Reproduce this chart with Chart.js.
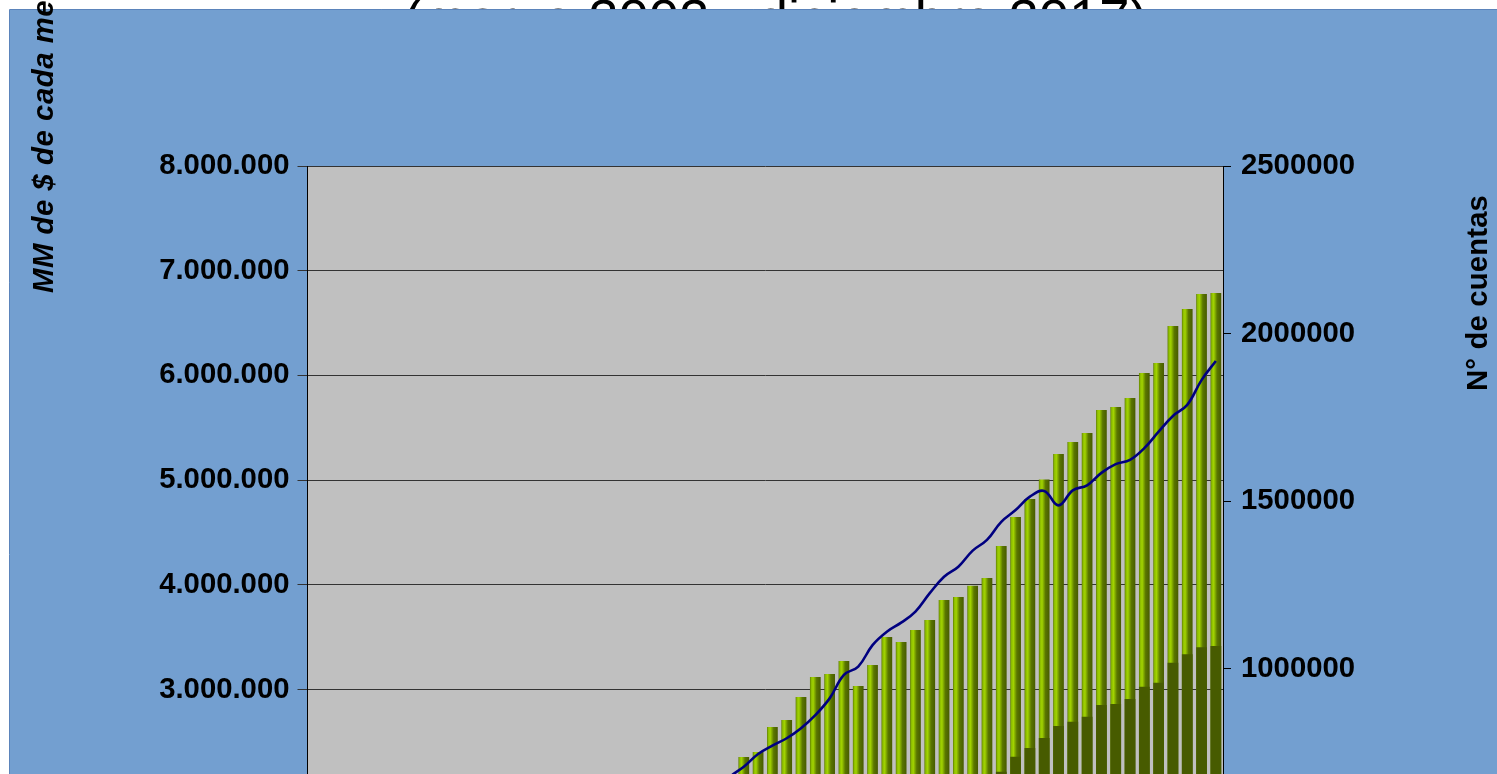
<!DOCTYPE html>
<html lang="es">
<head>
    <meta charset="UTF-8">
    <title>Monto y N° de cuentas (marzo 2002 - diciembre 2017)</title>
    <script src="https://cdn.jsdelivr.net/npm/chart.js"></script>
    <style>
        html, body { margin: 0; padding: 0; background: #fff; overflow: hidden; }
        #chart { position: absolute; left: 0; top: 0; }
    </style>
</head>
<body>
    <canvas id="chart" width="1497" height="1100"></canvas>

    <script>
        // --- Data ---
        const quarters = ['mar', 'jun', 'sep', 'dic'];
        const years = ['02', '03', '04', '05', '06', '07', '08', '09', '10', '11', '12', '13', '14', '15', '16', '17'];
        const categories = years.flatMap(y => quarters.map(q => q + '-' + y));

        // MM de $ (green columns)
        const montoTotal = [
            920000, 950000, 970000, 1000000, 1020000, 1050000, 1080000, 1100000,
            1120000, 1160000, 1180000, 1220000, 1240000, 1280000, 1310000, 1350000,
            1380000, 1420000, 1460000, 1500000, 1550000, 1600000, 1630000, 1700000,
            1750000, 1820000, 1880000, 1950000, 2020000, 2100000, 2355000, 2403000,
            2642000, 2709000, 2929000, 3120000, 3148000, 3273000, 3034000, 3234000,
            3502000, 3454000, 3568000, 3664000, 3855000, 3884000, 3991000, 4065000,
            4370000, 4647000, 4819000, 5006000, 5249000, 5364000, 5450000, 5670000,
            5698000, 5784000, 6023000, 6119000, 6472000, 6634000, 6777000, 6787000
        ];

        // MM de $ (dark olive part in front)
        const montoParte = [
            450000, 470000, 480000, 500000, 510000, 525000, 540000, 550000,
            560000, 580000, 590000, 610000, 620000, 640000, 655000, 675000,
            690000, 710000, 730000, 750000, 775000, 800000, 815000, 850000,
            875000, 910000, 940000, 975000, 1010000, 1050000, 1180000, 1200000,
            1320000, 1350000, 1460000, 1560000, 1570000, 1630000, 1520000, 1620000,
            1750000, 1730000, 1780000, 1830000, 1920000, 1940000, 2000000, 2080000,
            2215000, 2358000, 2441000, 2537000, 2651000, 2692000, 2740000, 2852000,
            2862000, 2909000, 3027000, 3065000, 3256000, 3336000, 3403000, 3415000
        ];

        // N° de cuentas (line, right axis)
        const cuentas = [
            160000, 170000, 178000, 185000, 195000, 205000, 212000, 220000,
            230000, 242000, 250000, 262000, 275000, 290000, 300000, 315000,
            330000, 345000, 360000, 378000, 395000, 415000, 432000, 455000,
            480000, 510000, 545000, 585000, 630000, 676000, 707000, 745000,
            770000, 792000, 822000, 861000, 911000, 981000, 1006000, 1070000,
            1110000, 1137000, 1170000, 1225000, 1274000, 1304000, 1352000, 1384000,
            1438000, 1473000, 1513000, 1530000, 1487000, 1532000, 1547000, 1584000,
            1610000, 1623000, 1658000, 1707000, 1754000, 1787000, 1861000, 1918000
        ];

        const titleText = '(marzo 2002 - diciembre 2017)';
        const leftTitle = 'MM de $ de cada mes';
        const rightTitle = 'N° de cuentas';

        const FONT = '"Liberation Sans", Arial, sans-serif';
        const BAR_FRACTION = 0.75;

        // thousands with dots: 8.000.000
        function formatDots(v) {
            return String(v).replace(/\B(?=(\d{3})+(?!\d))/g, '.');
        }

        // cylinder-like shading for each green column
        function greenFill(ctx) {
            const chart = ctx.chart;
            const xs = chart.scales.x;
            if (ctx.type !== 'data' || !chart.chartArea || !xs) return '#7fa800';
            const cx = xs.getPixelForValue(ctx.dataIndex);
            const half = xs.width / categories.length * BAR_FRACTION / 2;
            const g = chart.ctx.createLinearGradient(cx - half, 0, cx + half, 0);
            g.addColorStop(0, '#5d7a00');
            g.addColorStop(0.12, '#8cbc00');
            g.addColorStop(0.3, '#a2d400');
            g.addColorStop(0.62, '#5a7600');
            g.addColorStop(1, '#475b00');
            return g;
        }

        // background, partly hidden title, blue panel, grey plot area, axis titles
        const backdrop = {
            id: 'backdrop',
            beforeDraw(chart) {
                const { ctx, chartArea, width, height } = chart;
                ctx.save();
                ctx.fillStyle = '#ffffff';
                ctx.fillRect(0, 0, width, height);

                ctx.fillStyle = '#000';
                ctx.font = '54.4px ' + FONT;
                ctx.textAlign = 'left';
                ctx.textBaseline = 'alphabetic';
                ctx.fillText(titleText, 404, 36.5);

                ctx.fillStyle = '#739fd0';
                ctx.fillRect(10, 9, width, height);
                ctx.strokeStyle = '#5b84bb';
                ctx.lineWidth = 1;
                ctx.beginPath();
                ctx.moveTo(9.5, height);
                ctx.lineTo(9.5, 9.5);
                ctx.lineTo(width, 9.5);
                ctx.stroke();

                ctx.fillStyle = '#c0c0c0';
                ctx.fillRect(chartArea.left, chartArea.top, chartArea.width, chartArea.height);

                ctx.fillStyle = '#000';
                ctx.font = 'italic bold 29.3px ' + FONT;
                ctx.letterSpacing = '0.55px';
                ctx.translate(53.3, 293);
                ctx.rotate(-Math.PI / 2);
                ctx.fillText(leftTitle, 0, 0);
                ctx.restore();

                ctx.save();
                ctx.fillStyle = '#000';
                ctx.font = 'bold 29.3px ' + FONT;
                ctx.letterSpacing = '0.15px';
                ctx.translate(1486.7, 391);
                ctx.rotate(-Math.PI / 2);
                ctx.fillText(rightTitle, 0, 0);
                ctx.restore();
            }
        };

        const tickFont = { family: FONT, size: 29.3, weight: 'bold' };

        new Chart(document.getElementById('chart'), {
            data: {
                labels: categories,
                datasets: [
                    {
                        type: 'line',
                        label: rightTitle,
                        data: cuentas,
                        yAxisID: 'y1',
                        borderColor: '#000080',
                        borderWidth: 2.6,
                        pointRadius: 0,
                        tension: 0.4,
                        fill: false,
                        order: 0
                    },
                    {
                        type: 'bar',
                        label: 'MM de $ (parte)',
                        data: montoParte,
                        yAxisID: 'y',
                        backgroundColor: '#475b00',
                        grouped: false,
                        categoryPercentage: 1,
                        barPercentage: BAR_FRACTION,
                        order: 1
                    },
                    {
                        type: 'bar',
                        label: leftTitle,
                        data: montoTotal,
                        yAxisID: 'y',
                        backgroundColor: greenFill,
                        grouped: false,
                        categoryPercentage: 1,
                        barPercentage: BAR_FRACTION,
                        order: 2
                    }
                ]
            },
            options: {
                responsive: false,
                animation: false,
                layout: { padding: { top: 166, right: 0, bottom: 36.4, left: 0 } },
                plugins: {
                    legend: { display: false },
                    tooltip: { enabled: false }
                },
                scales: {
                    x: {
                        offset: true,
                        grid: { display: false },
                        border: { display: true, color: '#000' },
                        ticks: { font: tickFont, color: '#000', autoSkip: true, maxRotation: 90 },
                        afterFit(scale) { scale.height = 60; }
                    },
                    y: {
                        position: 'left',
                        min: 0,
                        max: 8000000,
                        ticks: {
                            stepSize: 1000000,
                            font: tickFont,
                            color: '#000',
                            padding: 8,
                            callback: v => formatDots(v)
                        },
                        grid: { color: '#333333', lineWidth: 1, tickLength: 10 },
                        border: { display: true, color: '#000', width: 1 },
                        afterFit(scale) { scale.width = 307.5; }
                    },
                    y1: {
                        position: 'right',
                        min: 0,
                        max: 2500000,
                        ticks: {
                            stepSize: 500000,
                            font: tickFont,
                            color: '#000',
                            padding: 10,
                            callback: v => String(v)
                        },
                        grid: { drawOnChartArea: false, color: '#000', tickLength: 8 },
                        border: { display: true, color: '#000', width: 1 },
                        afterFit(scale) { scale.width = 274; }
                    }
                }
            },
            plugins: [backdrop]
        });
    </script>
</body>
</html>
